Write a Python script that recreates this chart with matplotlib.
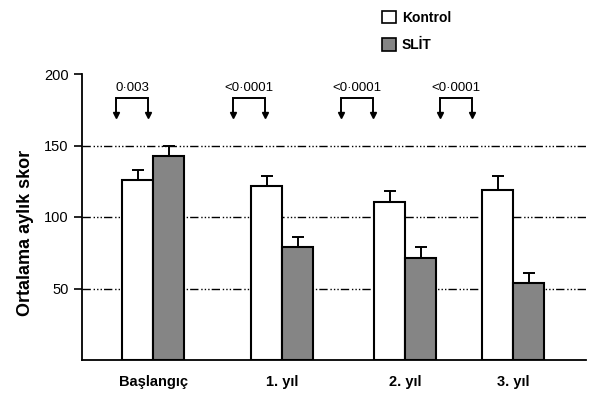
import matplotlib.pyplot as plt
from matplotlib.patches import Patch

plt.rcParams['font.family'] = ['Liberation Sans', 'DejaVu Sans']

# data
categories = ["Başlangıç", "1. yıl", "2. yıl", "3. yıl"]
kontrol = [126, 122, 110.5, 119]
kontrol_err = [7, 7, 8, 10]
slit = [143, 79, 71, 54]
slit_err = [7, 7, 8, 7]
p_values = ["0·003", "<0·0001", "<0·0001", "<0·0001"]

# layout (x in axis units, roughly pixels from the y axis)
group_x = [71, 200, 323, 431]
bar_w = 31
bracket_left = [34, 151, 259, 358]
bracket_w = 32

fig = plt.figure(figsize=(5.97, 3.94), dpi=100)
ax = fig.add_axes([82 / 597, 34 / 394, 504 / 597, 286 / 394])

for y in [50, 100, 150]:
    ax.axhline(y, color="black", lw=1.0, dashes=(6, 2, 1, 1.5, 1, 1.5, 1, 1.5), zorder=1)

kx = [g - bar_w / 2 for g in group_x]
sx = [g + bar_w / 2 for g in group_x]
ax.bar(kx, kontrol, width=bar_w, color="white", edgecolor="black", lw=1.5, zorder=2)
ax.bar(sx, slit, width=bar_w, color="#858585", edgecolor="black", lw=1.5, zorder=2)
ax.errorbar(kx, kontrol, yerr=[[0] * 4, kontrol_err], fmt="none", ecolor="black",
            elinewidth=1.4, capsize=4.5, capthick=1.4, zorder=3)
ax.errorbar(sx, slit, yerr=[[0] * 4, slit_err], fmt="none", ecolor="black",
            elinewidth=1.4, capsize=4.5, capthick=1.4, zorder=3)

# significance brackets
for bl, p in zip(bracket_left, p_values):
    br = bl + bracket_w
    ax.plot([bl, bl, br, br], [172, 183, 183, 172], color="black", lw=1.4,
            clip_on=False, solid_joinstyle="miter")
    ax.plot([bl, br], [171, 171], ls="none", marker="v", ms=4, color="black", clip_on=False)
    ax.text((bl + br) / 2, 186, p, ha="center", va="bottom", fontsize=9.5)

ax.set_xlim(0, 504)
ax.set_ylim(0, 200)
ax.set_yticks([50, 100, 150, 200])
ax.set_yticklabels(["50", "100", "150", "200"], fontsize=10.5)
ax.set_xticks(group_x)
ax.set_xticklabels(categories, fontsize=10.5, fontweight="bold")
ax.tick_params(axis="x", length=0, pad=11)
ax.tick_params(axis="y", length=6, width=1.2, pad=3.5)
ax.set_ylabel("Ortalama aylık skor", fontsize=13, fontweight="bold")
ax.yaxis.set_label_coords(-0.095, 0.444)
for s in ["top", "right"]:
    ax.spines[s].set_visible(False)
ax.spines["left"].set_linewidth(1.3)
ax.spines["bottom"].set_linewidth(1.3)

handles = [Patch(facecolor="white", edgecolor="black", lw=1.2, label="Kontrol"),
           Patch(facecolor="#858585", edgecolor="black", lw=1.2, label="SLİT")]
fig.legend(handles=handles, loc="upper left", bbox_to_anchor=(370 / 597, 1.005),
           frameon=False, handlelength=1.0, handleheight=1.0, handletextpad=0.4,
           labelspacing=1.0, prop={"weight": "bold", "size": 10})

fig.savefig("out.png", dpi=100)
